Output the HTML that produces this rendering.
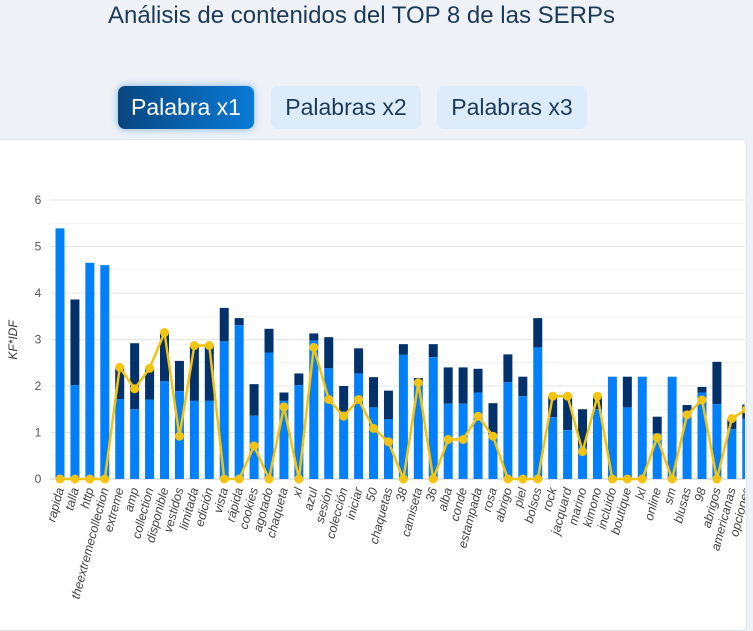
<!DOCTYPE html>
<html><head><meta charset="utf-8"><style>
body{margin:0;width:753px;height:615px;overflow:hidden;background:#eef2f7;font-family:"Liberation Sans",sans-serif;position:relative}
#title{position:absolute;left:0;width:723px;top:2px;text-align:center;font-size:24px;color:#1c3a57;white-space:nowrap}
.btn{position:absolute;top:86px;height:43px;border-radius:7px;font-size:23px;line-height:43px;text-align:center;color:#1c3a57;background:#dcecfb}
#b1{left:118px;width:136px;background:linear-gradient(90deg,#08467f,#0a7ad6);color:#fff;box-shadow:0 0 8px rgba(10,120,214,.5)}
#b2{left:271px;width:150px}
#b3{left:437px;width:150px}
#card{position:absolute;left:-5px;top:139px;width:750px;height:490px;background:#fff;border:1px solid #dde3ea;border-radius:5px}
svg{position:absolute;left:0;top:0}
</style></head><body>
<div id="title">Análisis de contenidos del TOP 8 de las SERPs</div>
<div class="btn" id="b1">Palabra x1</div>
<div class="btn" id="b2">Palabras x2</div>
<div class="btn" id="b3">Palabras x3</div>
<div id="card"></div>
<svg id="chart" width="753" height="615"></svg>
<script>
const categories=["rapida","talla","http","theextremecollection","extreme","amp","collection","disponible","vestidos","limitada","edición","vista","rápida","cookies","agotado","chaqueta","xl","azul","sesión","colección","iniciar","50","chaquetas","38","camiseta","36","alba","conde","estampada","rosa","abrigo","piel","bolsos","rock","jacquard","marino","kimono","incluido","boutique","lxl","online","sm","blusas","98","abrigos","americanas","opciones"];
const totalValues=[5.39,3.86,4.65,4.6,2.38,2.92,2.37,3.13,2.54,2.87,2.87,3.68,3.46,2.04,3.23,1.86,2.27,3.13,3.05,2.0,2.81,2.19,1.9,2.9,2.17,2.9,2.4,2.4,2.37,1.63,2.68,2.2,3.46,1.78,1.78,1.5,1.78,2.2,2.2,2.2,1.34,2.2,1.59,1.98,2.52,1.28,1.6];
const baseValues=[5.39,2.02,4.65,4.6,1.72,1.5,1.71,2.1,1.89,1.68,1.68,2.96,3.31,1.36,2.72,1.68,2.02,2.98,2.38,1.45,2.27,1.54,1.29,2.67,2.1,2.62,1.62,1.62,1.86,0.95,2.08,1.78,2.83,1.33,1.05,0.7,1.5,2.2,1.54,2.2,0.98,2.2,1.45,1.86,1.61,1.07,1.3];
const lineValues=[0,0,0,0,2.4,1.94,2.38,3.15,0.92,2.87,2.87,0,0,0.71,0,1.55,0,2.83,1.71,1.35,1.71,1.09,0.8,0,2.07,0,0.85,0.85,1.35,0.92,0,0,0,1.78,1.78,0.59,1.78,0,0,0,0.89,0,1.38,1.7,0,1.3,1.5];
const yTicks=[0,1,2,3,4,5,6];
const NS="http://www.w3.org/2000/svg";
const svg=document.getElementById('chart');
const y=v=>479-v*46.5;
const x=i=>60+i*14.93;
function mk(t,a,p){const e=document.createElementNS(NS,t);for(const k in a)e.setAttribute(k,a[k]);(p||svg).appendChild(e);return e;}
const defs=mk('defs',{});const cp=mk('clipPath',{id:'clip'},defs);mk('rect',{x:0,y:0,width:745,height:615},cp);
const g=mk('g',{'clip-path':'url(#clip)'});
yTicks.forEach(t=>{
 const l=mk('line',{x1:50,x2:745,y1:y(t),y2:y(t),stroke:t===0?'#c8c8c8':'#e6e6e6','stroke-width':1},g);
 
 if(t<6){const m=mk('line',{x1:50,x2:745,y1:y(t+0.5),y2:y(t+0.5),stroke:'#f3f3f3'},g);}
 const tx=mk('text',{x:38,y:y(t)+4,'font-size':12,fill:'#555','text-anchor':'middle'});tx.textContent=t;
 
});
const yt=mk('text',{x:0,y:0,transform:'translate(17,340) rotate(-90)','font-size':12,'font-style':'italic',fill:'#333','text-anchor':'middle'});yt.textContent='KF*IDF';

categories.forEach((c,i)=>{
 const cx=x(i);
 const r1=mk('rect',{x:cx-4.5,y:y(totalValues[i]),width:9,height:y(baseValues[i])-y(totalValues[i]),fill:'#03316b'},g);
 
 const r2=mk('rect',{x:cx-4.5,y:y(baseValues[i]),width:9,height:479-y(baseValues[i]),fill:'#0280fb'},g);
 
 const lb=mk('text',{x:0,y:0,transform:`translate(${cx+4},489) rotate(-75)`,'font-size':12.5,'font-style':'italic',fill:'#444','text-anchor':'end'},g);lb.textContent=c;
 
});
const pl=mk('polyline',{points:lineValues.map((v,i)=>x(i)+','+y(v)).join(' '),fill:'none',stroke:'#f2c40f','stroke-width':2.5},g);

lineValues.forEach((v,i)=>{const c=mk('circle',{cx:x(i),cy:y(v),r:4.5,fill:'#f2c40f'},g);
 });
</script>
</body></html>
